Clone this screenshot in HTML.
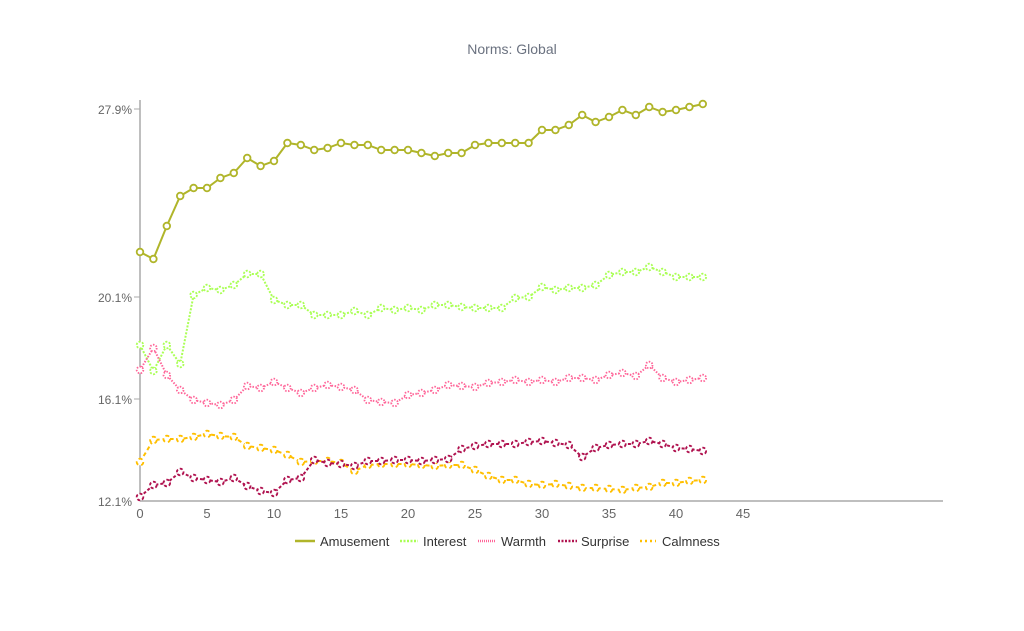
<!DOCTYPE html>
<html><head><meta charset="utf-8"><style>
body{margin:0;background:#fff;}
svg{display:block;font-family:"Liberation Sans",sans-serif;}
</style></head><body>
<svg id="s" width="1024" height="631" xmlns="http://www.w3.org/2000/svg">
<text x="512" y="54" text-anchor="middle" font-size="14" fill="#6b7280">Norms: Global</text>
<line x1="140" y1="100" x2="140" y2="501" stroke="#aaa" stroke-width="1.5"/>
<line x1="140" y1="501" x2="943" y2="501" stroke="#aaa" stroke-width="1.5"/>
<g font-size="12" fill="#666" text-anchor="end">
<text x="132" y="114">27.9%</text><line x1="134" y1="109" x2="140" y2="109" stroke="#aaa"/>
<text x="132" y="302">20.1%</text><line x1="134" y1="297" x2="140" y2="297" stroke="#aaa"/>
<text x="132" y="404">16.1%</text><line x1="134" y1="399" x2="140" y2="399" stroke="#aaa"/>
<text x="132" y="506">12.1%</text>
</g>
<g id="xt" font-size="13" fill="#666" text-anchor="middle"></g>
<g id="series"></g>
<g font-size="13" fill="#333">
<line x1="295" y1="541" x2="315" y2="541" stroke="#b0b52a" stroke-width="2.5"/><text x="320" y="546">Amusement</text>
<line x1="400" y1="541" x2="418" y2="541" stroke="#aaff55" stroke-width="2.5" stroke-dasharray="2,1.5"/><text x="423" y="546">Interest</text>
<line x1="478" y1="541" x2="496" y2="541" stroke="#ff6699" stroke-width="2.5" stroke-dasharray="1,1"/><text x="501" y="546">Warmth</text>
<line x1="558" y1="541" x2="577" y2="541" stroke="#b0124f" stroke-width="2.5" stroke-dasharray="2,1.5"/><text x="581" y="546">Surprise</text>
<line x1="640" y1="541" x2="656" y2="541" stroke="#ffbf00" stroke-width="2.5" stroke-dasharray="2,3"/><text x="662" y="546">Calmness</text>
</g>
</svg>
<script>
var NS="http://www.w3.org/2000/svg";
var xt=document.getElementById("xt");
for(var t=0;t<=45;t+=5){var x=140+13.4*t;var e=document.createElementNS(NS,"text");e.setAttribute("x",x);e.setAttribute("y",518);e.textContent=t;xt.appendChild(e);}
var S=[
["#b0b52a","",[252,259,226,196,188,188,178,173,158,166,161,143,145,150,148,143,145,145,150,150,150,153,156,153,153,145,143,143,143,143,130,130,125,115,122,117,110,115,107,112,110,107,104]],
["#aaff55","2,1.5",[345,371,345,364,295,288,290,285,274,274,300,305,305,315,315,315,311,315,308,310,308,310,305,305,307,308,308,308,298,297,287,290,288,288,285,275,272,272,267,272,277,277,277]],
["#ff6699","1.5,1.5",[370,348,375,390,400,403,405,400,386,388,382,388,393,388,385,387,390,400,402,403,395,393,390,385,386,387,383,382,380,382,380,382,378,378,380,375,373,376,365,378,382,380,378]],
["#ffbf00","4,3",[462,440,439,439,437,434,436,437,446,448,450,455,462,461,461,463,471,465,464,464,464,465,466,465,465,470,476,480,480,484,485,484,486,488,488,489,490,488,487,483,483,481,480]],
["#b0124f","3,2",[497,485,483,472,478,480,482,478,486,491,493,480,478,460,463,464,466,461,461,460,460,461,460,459,449,446,444,444,444,442,441,443,445,457,448,445,444,444,441,444,448,449,451]]
];
var g=document.getElementById("series");
S.forEach(function(s){
 var pts=s[2].map(function(y,i){return (140+13.4*i).toFixed(1)+","+y;}).join(" ");
 var p=document.createElementNS(NS,"polyline");p.setAttribute("points",pts);p.setAttribute("fill","none");p.setAttribute("stroke",s[0]);p.setAttribute("stroke-width","2");if(s[1])p.setAttribute("stroke-dasharray",s[1]);g.appendChild(p);
 s[2].forEach(function(y,i){var c=document.createElementNS(NS,"circle");c.setAttribute("cx",140+13.4*i);c.setAttribute("cy",y);c.setAttribute("r","3.3");c.setAttribute("fill","#fff");c.setAttribute("stroke",s[0]);c.setAttribute("stroke-width","1.8");if(s[1])c.setAttribute("stroke-dasharray",s[1]);g.appendChild(c);});
});
</script>
</body></html>
